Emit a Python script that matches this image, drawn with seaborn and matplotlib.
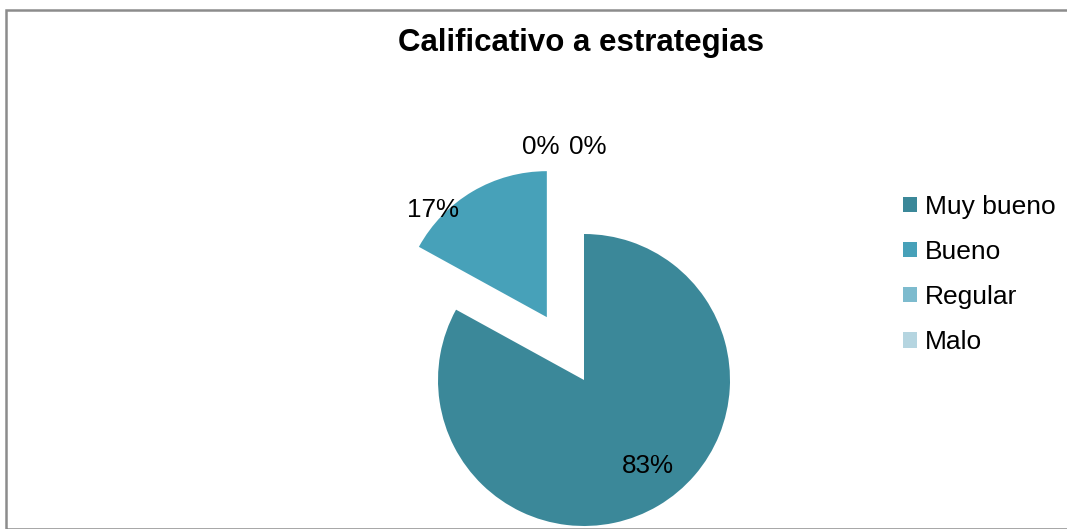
import matplotlib
matplotlib.use("Agg")
import matplotlib.pyplot as plt
import seaborn as sns

sns.set_theme(style="white")
plt.rcParams['font.family'] = ['Liberation Sans', 'DejaVu Sans']
plt.rcParams['text.color'] = 'black'

categories = ["Muy bueno", "Bueno", "Regular", "Malo"]
values = [83, 17, 0, 0]
pct_labels = ["83%", "17%", "0%", "0%"]
colors = ["#3B8899", "#47A1B9", "#7DBBCE", "#B5D5E0"]
explode_frac = [0, 0.5, 0, 0]
title = "Calificativo a estrategias"

W, H = 1067, 529
fig = plt.figure(figsize=(W / 100, H / 100), dpi=100)
fig.patch.set_facecolor("white")
ax = fig.add_axes([0, 0, 1, 1])

cx, cy, r = 584, H - 380, 146
wedges, _ = ax.pie(values, colors=colors, explode=[e * r for e in explode_frac],
                   startangle=90, counterclock=False, radius=r, center=(cx, cy),
                   frame=True, wedgeprops=dict(linewidth=0, antialiased=True))
ax.set_xlim(0, W)
ax.set_ylim(0, H)
ax.set_aspect("equal")
ax.axis("off")

# data labels (positions as placed in the original chart)
label_pos = [(648, H - 466), (433, H - 210), (541, H - 147), (588, H - 147)]
for txt, (x, y) in zip(pct_labels, label_pos):
    ax.text(x, y, txt, ha="center", va="center", fontsize=18.7, color="black")

ax.text(581, H - 40, title, ha="center", va="center_baseline", fontsize=22.5,
        fontweight="bold", color="black")

# border
border = plt.Rectangle((5.5 / W, 0), 1.2, (H - 10) / H, transform=fig.transFigure,
                       fill=False, edgecolor="#8C8C8C", linewidth=1.8)
fig.patches.append(border)

handles = [plt.Rectangle((0, 0), 1, 1, facecolor=c, edgecolor="none") for c in colors]
leg = fig.legend(handles, categories, loc="center left",
                 bbox_to_anchor=(903 / W, (H - 274.5) / H), frameon=False,
                 fontsize=19, handlelength=0.52, handleheight=0.52,
                 handletextpad=0.3, labelspacing=0.8, borderpad=0,
                 borderaxespad=0, labelcolor="black")

fig.savefig("out.png", dpi=100, facecolor="white")
